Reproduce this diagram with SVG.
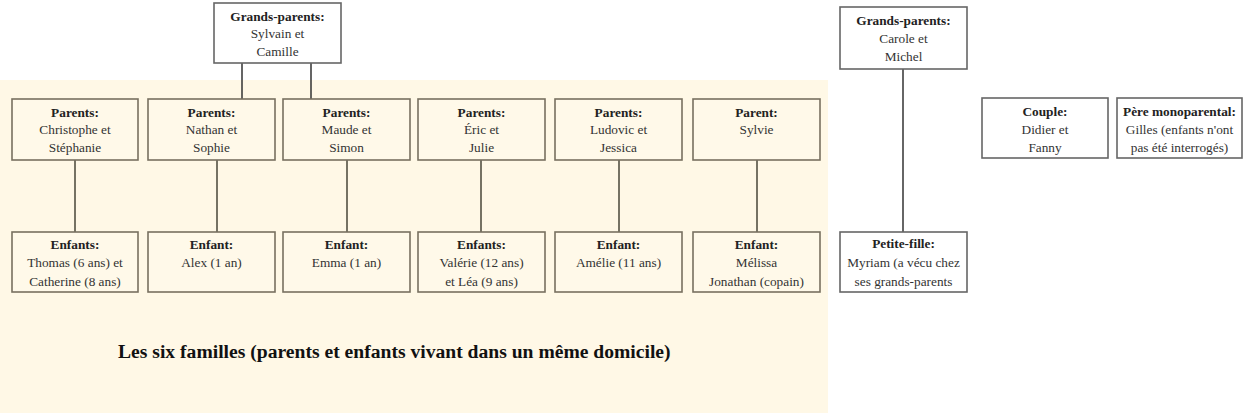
<svg xmlns="http://www.w3.org/2000/svg" width="1243" height="415" viewBox="0 0 1243 415">
<style>
.bg{fill:#fff8e6}
.box{fill:#fff9e9;stroke:#787060;stroke-width:1.6}
.wbox{fill:#ffffff;stroke:#666666;stroke-width:1.6}
.ln{stroke:#4a4538;stroke-width:1.5;fill:none}
.lnd{stroke:#333333;stroke-width:1.5;fill:none}
text{font-family:"Liberation Serif","Times New Roman",serif;font-size:13.3px;text-anchor:middle;fill:#333333}
.b{font-weight:bold;fill:#222222}
.title{font-size:19.6px;font-weight:bold;fill:#111111;text-anchor:start}
</style>
<rect class="bg" x="0" y="80" width="828" height="333"/>
<g id="connectors">
<path class="lnd" d="M242,63V99M311,63V99"/>
<path class="ln" d="M75,160V232M217,160V232M347,160V232M481,160V232M619,160V232M757,160V232"/>
<path class="lnd" d="M903,69V232"/>
</g>
<g id="gp1"><rect class="wbox" x="214" y="3" width="127" height="60"/><text class="b" x="277.5" y="21">Grands-parents:</text><text x="277.5" y="38">Sylvain et</text><text x="277.5" y="56">Camille</text></g>
<g id="p1"><rect class="box" x="12" y="99" width="126" height="61"/><text class="b" x="75" y="117">Parents:</text><text x="75" y="134">Christophe et</text><text x="75" y="152">Stéphanie</text></g>
<g id="p2"><rect class="box" x="148" y="99" width="127" height="61"/><text class="b" x="211.5" y="117">Parents:</text><text x="211.5" y="134">Nathan et</text><text x="211.5" y="152">Sophie</text></g>
<g id="p3"><rect class="box" x="283" y="99" width="127" height="61"/><text class="b" x="346.5" y="117">Parents:</text><text x="346.5" y="134">Maude et</text><text x="346.5" y="152">Simon</text></g>
<g id="p4"><rect class="box" x="418" y="99" width="127" height="61"/><text class="b" x="481.5" y="117">Parents:</text><text x="481.5" y="134">Éric et</text><text x="481.5" y="152">Julie</text></g>
<g id="p5"><rect class="box" x="555" y="99" width="127" height="61"/><text class="b" x="618.5" y="117">Parents:</text><text x="618.5" y="134">Ludovic et</text><text x="618.5" y="152">Jessica</text></g>
<g id="p6"><rect class="box" x="693" y="99" width="127" height="61"/><text class="b" x="756.5" y="117">Parent:</text><text x="756.5" y="134">Sylvie</text></g>
<g id="c1"><rect class="box" x="12" y="232" width="126" height="60"/><text class="b" x="75" y="249">Enfants:</text><text x="75" y="267">Thomas (6 ans) et</text><text x="75" y="286">Catherine (8 ans)</text></g>
<g id="c2"><rect class="box" x="148" y="232" width="127" height="60"/><text class="b" x="211.5" y="249">Enfant:</text><text x="211.5" y="267">Alex (1 an)</text></g>
<g id="c3"><rect class="box" x="283" y="232" width="127" height="60"/><text class="b" x="346.5" y="249">Enfant:</text><text x="346.5" y="267">Emma (1 an)</text></g>
<g id="c4"><rect class="box" x="418" y="232" width="127" height="60"/><text class="b" x="481.5" y="249">Enfants:</text><text x="481.5" y="267">Valérie (12 ans)</text><text x="481.5" y="286">et Léa (9 ans)</text></g>
<g id="c5"><rect class="box" x="555" y="232" width="127" height="60"/><text class="b" x="618.5" y="249">Enfant:</text><text x="618.5" y="267">Amélie (11 ans)</text></g>
<g id="c6"><rect class="box" x="693" y="232" width="127" height="60"/><text class="b" x="756.5" y="249">Enfant:</text><text x="756.5" y="267">Mélissa</text><text x="756.5" y="286">Jonathan (copain)</text></g>
<g id="title"><text class="title" x="118" y="358">Les six familles (parents et enfants vivant dans un même domicile)</text></g>
<g id="gp2"><rect class="wbox" x="840" y="7" width="127" height="62"/><text class="b" x="903.5" y="25">Grands-parents:</text><text x="903.5" y="43">Carole et</text><text x="903.5" y="61">Michel</text></g>
<g id="pf"><rect class="wbox" x="840" y="232" width="127" height="60"/><text class="b" x="903.5" y="248">Petite-fille:</text><text x="903.5" y="267">Myriam (a vécu chez</text><text x="903.5" y="286">ses grands-parents</text></g>
<g id="couple"><rect class="wbox" x="982" y="98" width="126" height="60"/><text class="b" x="1045" y="116">Couple:</text><text x="1045" y="134">Didier et</text><text x="1045" y="152">Fanny</text></g>
<g id="pere"><rect class="wbox" x="1117" y="98" width="125" height="60"/><text class="b" x="1179.5" y="116">Père monoparental:</text><text x="1179.5" y="134">Gilles (enfants n'ont</text><text x="1179.5" y="152">pas été interrogés)</text></g>
</svg>
